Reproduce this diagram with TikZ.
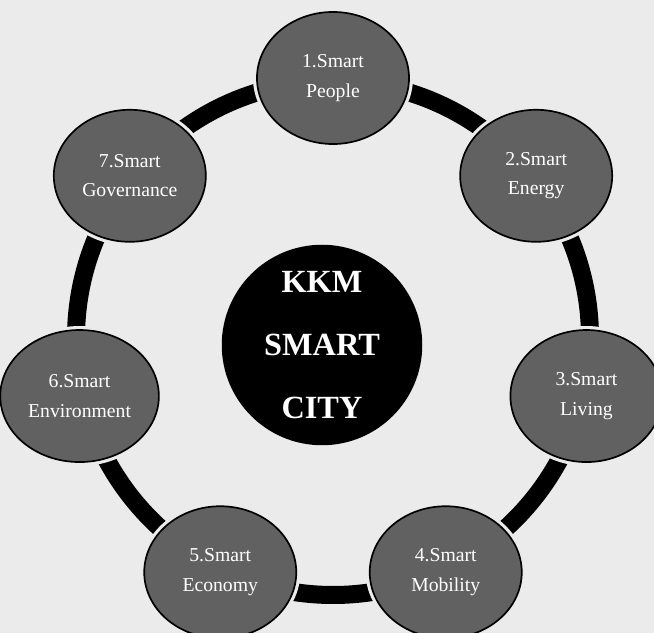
\documentclass[tikz,border=0pt]{standalone}
\usepackage{fontspec}
\setmainfont{Liberation Serif}
\usepackage{tikz}
\usetikzlibrary{positioning, shapes.geometric, calc}

\begin{document}
\begin{tikzpicture}[x=0.025cm, y=0.025cm,
    every node/.style={font=\fontsize{14}{21}\selectfont},
    dimension/.style={draw, ellipse, fill=black!62, text=white!85, align=center,
        line width=1.2pt, minimum width=3.8cm, minimum height=3.3cm,
        preaction={draw=black!8, line width=0.2cm}}]
    % Background
    \fill[black!8] (0,0) rectangle (654,633);
    \useasboundingbox (0,0) rectangle (654,633);

    % Ring
    \coordinate (hub) at (333,295);
    \draw[line width=0.45cm] (hub) circle [radius=257];

    % Dimensions
    \node[dimension] (people) at ([shift={(90:260)}]hub) {1.Smart\\People};
    \node[dimension] (energy) at ([shift={(38.6:260)}]hub) {2.Smart\\Energy};
    \node[dimension] (living) at ([shift={(-12.9:260)}]hub) {3.Smart\\Living};
    \node[dimension] (mobility) at ([shift={(-64.3:260)}]hub) {4.Smart\\Mobility};
    \node[dimension] (economy) at ([shift={(-115.7:260)}]hub) {5.Smart\\Economy};
    \node[dimension] (environment) at ([shift={(-167.1:260)}]hub) {6.Smart\\Environment};
    \node[dimension] (governance) at ([shift={(141.4:260)}]hub) {7.Smart\\Governance};

    % Centre
    \node[circle, fill=black, text=white, align=center, minimum size=4.25cm,
        font=\fontsize{23}{45}\selectfont\bfseries] (city) at (322,288) {KKM\\SMART\\CITY};
\end{tikzpicture}
\end{document}
